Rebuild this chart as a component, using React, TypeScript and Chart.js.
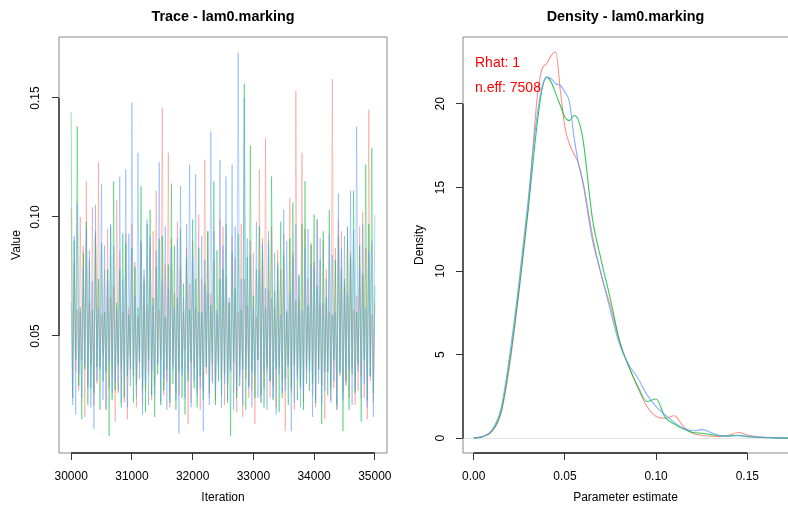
import React, { useEffect, useRef } from 'react';
import { Chart, registerables } from 'chart.js';

Chart.register(...registerables);

// ---------- Trace data (3 chains, iterations 30000..35000, one value every 25 iterations) ----------
const ITER_START = 30000;
const ITER_STEP = 25;

const chainRed = [
  0.104, 0.024, 0.081, 0.035, 0.061, 0.027, 0.100, 0.040, 0.088, 0.016,
  0.115, 0.029, 0.064, 0.038, 0.104, 0.021, 0.092, 0.030, 0.123, 0.037,
  0.059, 0.042, 0.078, 0.019, 0.095, 0.028, 0.066, 0.034, 0.071, 0.014,
  0.107, 0.026, 0.086, 0.036, 0.060, 0.022, 0.093, 0.015, 0.062, 0.041,
  0.097, 0.033, 0.081, 0.020, 0.058, 0.039, 0.089, 0.021, 0.075, 0.027,
  0.063, 0.034, 0.088, 0.023, 0.094, 0.029, 0.111, 0.038, 0.061, 0.040,
  0.146, 0.025, 0.080, 0.031, 0.127, 0.020, 0.091, 0.038, 0.068, 0.026,
  0.098, 0.025, 0.079, 0.036, 0.060, 0.044, 0.087, 0.013, 0.072, 0.022,
  0.090, 0.037, 0.062, 0.028, 0.101, 0.019, 0.074, 0.027, 0.124, 0.034,
  0.094, 0.024, 0.068, 0.031, 0.082, 0.023, 0.059, 0.038, 0.099, 0.032,
  0.096, 0.021, 0.075, 0.030, 0.064, 0.036, 0.092, 0.026, 0.083, 0.018,
  0.060, 0.037, 0.097, 0.016, 0.074, 0.032, 0.063, 0.024, 0.090, 0.027,
  0.085, 0.013, 0.058, 0.040, 0.120, 0.022, 0.091, 0.028, 0.133, 0.035,
  0.069, 0.024, 0.096, 0.029, 0.062, 0.020, 0.086, 0.037, 0.078, 0.031,
  0.093, 0.010, 0.061, 0.038, 0.108, 0.026, 0.085, 0.019, 0.153, 0.034,
  0.065, 0.028, 0.127, 0.022, 0.095, 0.030, 0.074, 0.039, 0.088, 0.025,
  0.081, 0.020, 0.099, 0.036, 0.063, 0.029, 0.090, 0.015, 0.078, 0.035,
  0.060, 0.023, 0.158, 0.028, 0.087, 0.019, 0.099, 0.033, 0.094, 0.026,
  0.071, 0.030, 0.091, 0.024, 0.085, 0.037, 0.061, 0.021, 0.067, 0.027,
  0.096, 0.033, 0.102, 0.024, 0.087, 0.015, 0.145, 0.031, 0.059, 0.022,
  0.064,
];
const chainGreen = [
  0.144, 0.024, 0.090, 0.040, 0.138, 0.029, 0.062, 0.015, 0.085, 0.036,
  0.098, 0.021, 0.082, 0.028, 0.061, 0.026, 0.094, 0.037, 0.074, 0.019,
  0.089, 0.031, 0.060, 0.035, 0.078, 0.008, 0.096, 0.023, 0.115, 0.027,
  0.064, 0.038, 0.078, 0.020, 0.093, 0.024, 0.089, 0.033, 0.059, 0.036,
  0.087, 0.022, 0.079, 0.030, 0.062, 0.039, 0.113, 0.028, 0.073, 0.018,
  0.097, 0.040, 0.103, 0.025, 0.066, 0.016, 0.079, 0.034, 0.091, 0.021,
  0.092, 0.027, 0.058, 0.036, 0.080, 0.022, 0.114, 0.030, 0.088, 0.019,
  0.066, 0.035, 0.095, 0.024, 0.072, 0.017, 0.083, 0.031, 0.061, 0.039,
  0.099, 0.028, 0.074, 0.020, 0.087, 0.033, 0.060, 0.023, 0.072, 0.037,
  0.094, 0.026, 0.063, 0.038, 0.115, 0.021, 0.086, 0.031, 0.074, 0.025,
  0.078, 0.034, 0.097, 0.022, 0.064, 0.008, 0.085, 0.039, 0.070, 0.024,
  0.093, 0.029, 0.061, 0.036, 0.156, 0.019, 0.083, 0.029, 0.130, 0.035,
  0.067, 0.024, 0.078, 0.040, 0.096, 0.025, 0.088, 0.020, 0.062, 0.037,
  0.090, 0.031, 0.117, 0.023, 0.069, 0.036, 0.079, 0.018, 0.098, 0.024,
  0.084, 0.032, 0.060, 0.021, 0.091, 0.028, 0.106, 0.038, 0.065, 0.023,
  0.075, 0.029, 0.097, 0.019, 0.115, 0.036, 0.063, 0.027, 0.089, 0.030,
  0.101, 0.022, 0.071, 0.036, 0.082, 0.013, 0.094, 0.035, 0.066, 0.025,
  0.103, 0.028, 0.059, 0.040, 0.082, 0.021, 0.092, 0.035, 0.078, 0.010,
  0.074, 0.031, 0.096, 0.019, 0.083, 0.034, 0.111, 0.026, 0.060, 0.038,
  0.088, 0.014, 0.076, 0.040, 0.122, 0.023, 0.097, 0.033, 0.129, 0.026,
  0.071,
];
const chainBlue = [
  0.064, 0.021, 0.092, 0.017, 0.106, 0.034, 0.060, 0.024, 0.079, 0.038,
  0.095, 0.028, 0.086, 0.020, 0.073, 0.011, 0.105, 0.031, 0.062, 0.036,
  0.114, 0.023, 0.088, 0.019, 0.073, 0.039, 0.097, 0.026, 0.088, 0.031,
  0.061, 0.027, 0.117, 0.022, 0.074, 0.034, 0.120, 0.020, 0.093, 0.029,
  0.148, 0.036, 0.067, 0.024, 0.127, 0.032, 0.090, 0.017, 0.078, 0.030,
  0.099, 0.021, 0.092, 0.035, 0.063, 0.025, 0.086, 0.038, 0.123, 0.022,
  0.074, 0.032, 0.096, 0.019, 0.070, 0.027, 0.087, 0.036, 0.062, 0.023,
  0.091, 0.009, 0.113, 0.033, 0.066, 0.024, 0.097, 0.035, 0.122, 0.020,
  0.083, 0.031, 0.118, 0.025, 0.060, 0.028, 0.092, 0.010, 0.082, 0.037,
  0.068, 0.021, 0.136, 0.030, 0.094, 0.026, 0.061, 0.036, 0.124, 0.020,
  0.088, 0.030, 0.117, 0.023, 0.066, 0.035, 0.122, 0.019, 0.096, 0.027,
  0.169, 0.033, 0.074, 0.021, 0.150, 0.036, 0.091, 0.028, 0.084, 0.020,
  0.062, 0.034, 0.098, 0.024, 0.078, 0.022, 0.089, 0.035, 0.070, 0.019,
  0.094, 0.031, 0.066, 0.024, 0.085, 0.017, 0.081, 0.034, 0.059, 0.026,
  0.103, 0.027, 0.090, 0.037, 0.068, 0.010, 0.083, 0.022, 0.097, 0.032,
  0.076, 0.020, 0.061, 0.026, 0.087, 0.030, 0.095, 0.035, 0.080, 0.016,
  0.079, 0.024, 0.099, 0.030, 0.091, 0.021, 0.064, 0.027, 0.074, 0.035,
  0.093, 0.022, 0.084, 0.031, 0.060, 0.019, 0.110, 0.034, 0.087, 0.023,
  0.092, 0.029, 0.068, 0.036, 0.111, 0.021, 0.095, 0.028, 0.138, 0.035,
  0.078, 0.024, 0.097, 0.030, 0.062, 0.020, 0.085, 0.033, 0.090, 0.016,
  0.101,
];
const iterTicks = [30000, 31000, 32000, 33000, 34000, 35000];
const valueTicks = [0.05, 0.1, 0.15];

// ---------- Density data ----------
const densityX = [
  0, 0.005, 0.01, 0.015, 0.02, 0.025, 0.03, 0.0325, 0.035, 0.0375,
  0.04, 0.0425, 0.045, 0.0475, 0.05, 0.0525, 0.055, 0.0575, 0.06, 0.065,
  0.07, 0.075, 0.08, 0.085, 0.09, 0.095, 0.1, 0.105, 0.11, 0.115,
  0.12, 0.125, 0.13, 0.135, 0.14, 0.145, 0.15, 0.155, 0.16, 0.165,
  0.17, 0.175,
];
const densRed = [
  0.02, 0.1, 0.4, 1.5, 4.6, 9.0, 14.0, 17.4, 20.6, 22.1,
  22.4, 22.9, 23.1, 20.8, 18.6, 17.6, 17.0, 16.4, 15.3, 12.2,
  9.7, 7.9, 5.8, 4.3, 3.0, 1.9, 1.3, 1.2, 1.35, 0.7,
  0.3, 0.18, 0.12, 0.1, 0.18, 0.35, 0.2, 0.1, 0.06, 0.04,
  0.02, 0.01,
];
const densGreen = [
  0.02, 0.1, 0.45, 1.6, 4.8, 9.0, 13.8, 16.5, 19.0, 20.9,
  21.6, 21.3, 20.6, 19.9, 19.2, 19.0, 19.3, 19.0, 17.8, 13.2,
  10.6, 8.3, 5.8, 4.3, 3.1, 2.2, 2.35, 1.25, 0.85, 0.55,
  0.35, 0.3, 0.22, 0.15, 0.15, 0.18, 0.1, 0.06, 0.04, 0.02,
  0.01, 0.01,
];
const densBlue = [
  0.02, 0.1, 0.5, 1.8, 5.2, 9.5, 14.4, 17.2, 19.5, 21.0,
  21.6, 21.5, 21.2, 21.1, 20.7, 20.1, 18.0, 16.4, 15.2, 11.9,
  9.8, 7.6, 5.6, 4.4, 3.6, 2.6, 1.9, 1.4, 0.95, 0.6,
  0.45, 0.52, 0.35, 0.15, 0.12, 0.15, 0.12, 0.08, 0.05, 0.03,
  0.02, 0.01,
];
const estimateTicks = [0, 0.05, 0.1, 0.15];
const densityTicks = [0, 5, 10, 15, 20];
const rhatLabel = 'Rhat: 1';
const neffLabel = 'n.eff: 7508';

const RED = '248,118,109';
const GREEN = '0,186,56';
const BLUE = '97,156,255';
const FONT = '"Liberation Sans", Arial, Helvetica, sans-serif';

Chart.defaults.font.family = FONT;
Chart.defaults.color = '#000';

// R-like frame: grey box + black axis segment from first to last tick
const rFrame = {
  id: 'rFrame',
  afterDatasetsDraw(chart: any, _args: any, opts: any) {
    const { ctx, chartArea: a, scales } = chart;
    ctx.save();
    ctx.strokeStyle = '#8a8a8a';
    ctx.lineWidth = 1;
    ctx.beginPath();
    const L = Math.round(a.left), R = Math.round(a.right), T = Math.round(a.top), B = Math.round(a.bottom);
    ctx.moveTo(L, B); ctx.lineTo(L, T); ctx.lineTo(R + (opts.noRight ? 2 : 0), T);
    if (!opts.noRight) { ctx.lineTo(R, B); }
    ctx.moveTo(R + (opts.noRight ? 2 : 0), B); ctx.lineTo(L, B);
    ctx.stroke();
    ctx.strokeStyle = '#222';
    ctx.lineWidth = 1.3;
    ctx.beginPath();
    const xs = scales.x, ys = scales.y;
    const xt = xs.ticks, yt = ys.ticks;
    ctx.moveTo(xs.getPixelForValue(xt[0].value), B);
    ctx.lineTo(xs.getPixelForValue(xt[xt.length - 1].value), B);
    ctx.moveTo(L, ys.getPixelForValue(yt[0].value));
    ctx.lineTo(L, ys.getPixelForValue(yt[yt.length - 1].value));
    ctx.stroke();
    ctx.restore();
  },
};

const rhatText = {
  id: 'rhatText',
  afterDraw(chart: any) {
    const { ctx, chartArea: a } = chart;
    ctx.save();
    ctx.fillStyle = '#ff0000';
    ctx.font = `14px ${FONT}`;
    ctx.textBaseline = 'middle';
    ctx.textAlign = 'left';
    ctx.fillText(rhatLabel, a.left + 12, a.top + 26);
    ctx.fillText(neffLabel, a.left + 12, a.top + 51);
    ctx.restore();
  },
};

const setTicks = (list: number[]) => (s: any) => {
  s.ticks = list.map((v) => ({ value: v }));
};

function TraceChart() {
  const ref = useRef<HTMLCanvasElement | null>(null);
  useEffect(() => {
    const toPts = (arr: number[]) => arr.map((v, i) => ({ x: ITER_START + i * ITER_STEP, y: v }));
    const chart = new Chart(ref.current as HTMLCanvasElement, {
      type: 'line',
      data: {
        datasets: [
          { data: toPts(chainRed), borderColor: `rgba(${RED},0.42)`, order: 3 },
          { data: toPts(chainGreen), borderColor: `rgba(${GREEN},0.42)`, order: 2 },
          { data: toPts(chainBlue), borderColor: `rgba(${BLUE},0.45)`, order: 1 },
        ].map((d) => ({ ...d, borderWidth: 1, pointRadius: 0, tension: 0, fill: false })),
      },
      options: {
        animation: false,
        responsive: false,
        devicePixelRatio: 1,
        events: [],
        layout: { padding: { left: 0, right: 7, top: 0, bottom: 0 } },
        plugins: {
          legend: { display: false },
          tooltip: { enabled: false },
          title: {
            display: true,
            text: 'Trace - lam0.marking',
            fullSize: false,
            color: '#000',
            font: { size: 14.4, weight: 'bold' },
            padding: { top: 8, bottom: 11.7 },
          },
          rFrame: {},
        } as any,
        scales: {
          x: {
            type: 'linear',
            min: 29800,
            max: 35200,
            afterBuildTicks: setTicks(iterTicks),
            afterFit: (s: any) => { s.height = 53; s.paddingLeft = 0; s.paddingRight = 0; },
            border: { display: false },
            grid: { display: true, drawOnChartArea: false, drawTicks: true, tickLength: 7, tickColor: '#333', tickWidth: 1 },
            ticks: { autoSkip: false, maxRotation: 0, minRotation: 0, padding: 9, color: '#000', font: { size: 12 }, callback: (v: any) => String(v) },
            title: { display: true, text: 'Iteration', color: '#000', font: { size: 12 }, padding: { top: 0, bottom: 1 } },
          },
          y: {
            type: 'linear',
            min: 0.00084,
            max: 0.17563,
            afterBuildTicks: setTicks(valueTicks),
            afterFit: (s: any) => { s.width = 59; s.paddingTop = 0; s.paddingBottom = 0; },
            border: { display: false },
            grid: { display: true, drawOnChartArea: false, drawTicks: true, tickLength: 7, tickColor: '#333', tickWidth: 1 },
            ticks: { autoSkip: false, minRotation: 90, maxRotation: 90, crossAlign: 'center', padding: 4.3, color: '#000', font: { size: 12 }, callback: (v: any) => Number(v).toFixed(2) },
            title: { display: true, text: 'Value', color: '#000', font: { size: 12 }, padding: { top: 9.8, bottom: 0 } },
          },
        },
      } as any,
      plugins: [rFrame],
    });
    return () => chart.destroy();
  }, []);
  return <canvas ref={ref} width={394} height={506} style={{ position: 'absolute', left: 0, top: 0, width: 394, height: 506 }} />;
}

function DensityChart() {
  const ref = useRef<HTMLCanvasElement | null>(null);
  useEffect(() => {
    const toPts = (arr: number[]) => arr.map((v, i) => ({ x: densityX[i], y: v }));
    const chart = new Chart(ref.current as HTMLCanvasElement, {
      type: 'line',
      data: {
        datasets: [
          { data: toPts(densRed), borderColor: `rgba(${RED},0.8)`, order: 3 },
          { data: toPts(densGreen), borderColor: `rgba(${GREEN},0.8)`, order: 2 },
          { data: toPts(densBlue), borderColor: `rgba(${BLUE},0.8)`, order: 1 },
        ].map((d) => ({ ...d, borderWidth: 1.1, pointRadius: 0, cubicInterpolationMode: 'monotone', fill: false })),
      },
      options: {
        animation: false,
        responsive: false,
        devicePixelRatio: 1,
        events: [],
        layout: { padding: { left: 0, right: 0, top: 0, bottom: 0 } },
        plugins: {
          legend: { display: false },
          tooltip: { enabled: false },
          title: {
            display: true,
            text: 'Density - lam0.marking',
            fullSize: false,
            color: '#000',
            font: { size: 14.4, weight: 'bold' },
            padding: { top: 8, bottom: 11.7 },
          },
          rFrame: { noRight: true },
        } as any,
        scales: {
          x: {
            type: 'linear',
            min: -0.00587,
            max: 0.1723,
            afterBuildTicks: setTicks(estimateTicks),
            afterFit: (s: any) => { s.height = 53; s.paddingLeft = 0; s.paddingRight = 0; },
            border: { display: false },
            grid: { display: true, drawOnChartArea: false, drawTicks: true, tickLength: 7, tickColor: '#333', tickWidth: 1 },
            ticks: { autoSkip: false, maxRotation: 0, minRotation: 0, padding: 9, color: '#000', font: { size: 12 }, callback: (v: any) => Number(v).toFixed(2) },
            title: { display: true, text: 'Parameter estimate', color: '#000', font: { size: 12 }, padding: { top: 0, bottom: 1 } },
          },
          y: {
            type: 'linear',
            min: -0.88,
            max: 24.0,
            afterBuildTicks: setTicks(densityTicks),
            afterFit: (s: any) => { s.width = 69; s.paddingTop = 0; s.paddingBottom = 0; },
            border: { display: false },
            grid: {
              display: true,
              drawOnChartArea: true,
              drawTicks: true,
              tickLength: 7,
              tickColor: '#333',
              tickWidth: 1,
              color: (c: any) => (c.tick && c.tick.value === 0 ? '#e4e4e4' : 'rgba(0,0,0,0)'),
            },
            ticks: { autoSkip: false, minRotation: 90, maxRotation: 90, crossAlign: 'center', padding: 8.8, color: '#000', font: { size: 12 }, callback: (v: any) => String(v) },
            title: { display: true, text: 'Density', color: '#000', font: { size: 12 }, padding: { top: 18, bottom: 0 } },
          },
        },
      } as any,
      plugins: [rFrame, rhatText],
    });
    return () => chart.destroy();
  }, []);
  return <canvas ref={ref} width={394} height={506} style={{ position: 'absolute', left: 394, top: 0, width: 394, height: 506 }} />;
}

export default function App() {
  return (
    <div style={{ position: 'absolute', left: 0, top: 0, width: 788, height: 506, background: '#fff', overflow: 'hidden' }}>
      <TraceChart />
      <DensityChart />
    </div>
  );
}
